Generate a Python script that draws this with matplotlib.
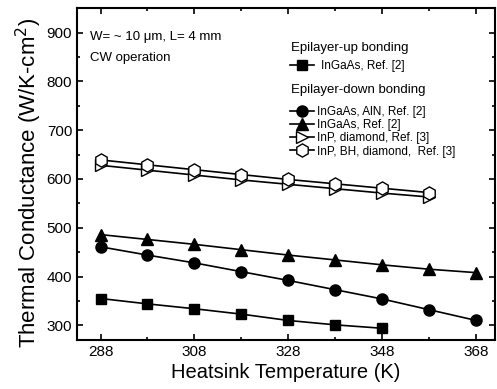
import numpy as np
import matplotlib.pyplot as plt
from matplotlib.ticker import MultipleLocator

plt.rcParams['font.family'] = ['Liberation Sans', 'DejaVu Sans']

# Heatsink temperatures (K)
temp_up = [288, 298, 308, 318, 328, 338, 348]
temp_down = [288, 298, 308, 318, 328, 338, 348, 358, 368]
temp_inp = [288, 298, 308, 318, 328, 338, 348, 358]

# Thermal conductance (W/K-cm^2)
ingaas_up = [355, 344, 334, 323, 310, 301, 294]
ingaas_aln = [461, 444, 428, 410, 392, 373, 354, 332, 310]
ingaas_down = [486, 476, 466, 455, 444, 434, 424, 415, 408]
inp_diamond = [628, 618, 608, 598, 589, 580, 571, 563]
inp_bh_diamond = [639, 629, 619, 609, 599, 590, 581, 572]

fig = plt.figure(figsize=(4.97, 3.89), dpi=100)
ax = fig.add_axes([0.155, 0.126, 0.841, 0.853])

l1, = ax.plot(temp_up, ingaas_up, 'k-s', ms=7, lw=1.2)
l2, = ax.plot(temp_down, ingaas_aln, 'k-o', ms=8, lw=1.2)
l3, = ax.plot(temp_down, ingaas_down, 'k-^', ms=8, lw=1.2)
l4, = ax.plot(temp_inp, inp_diamond, 'k->', ms=9, lw=1.2, mfc='white')
l5, = ax.plot(temp_inp, inp_bh_diamond, 'k-h', ms=9.5, lw=1.2, mfc='white')

ax.set_xlim(283, 372)
ax.set_ylim(270, 950)
ax.set_xticks(np.arange(288, 369, 20))
ax.set_xticks(np.arange(298, 369, 20), minor=True)
ax.set_yticks(np.arange(300, 901, 100))
ax.yaxis.set_minor_locator(MultipleLocator(50))
ax.tick_params(which='both', direction='in', top=True, right=True, labelsize=11)
ax.tick_params(which='major', length=4, width=1.2)
ax.tick_params(which='minor', length=2.5, width=1.2)
for s in ax.spines.values():
    s.set_linewidth(1.5)

ax.set_xlabel("Heatsink Temperature (K)", fontsize=14.5, labelpad=3)
ax.set_ylabel("Thermal Conductance (W/K-cm$^2$)", fontsize=16)
ax.yaxis.set_label_coords(-0.078, 0.473)

ax.text(0.03, 0.905, "W= ~ 10 \u03bcm, L= 4 mm", transform=ax.transAxes, fontsize=9.5)
ax.text(0.03, 0.84, "CW operation", transform=ax.transAxes, fontsize=9.5)

# legend headers
ax.text(0.512, 0.87, "Epilayer-up bonding", transform=ax.transAxes, fontsize=9.5)
ax.text(0.512, 0.745, "Epilayer-down bonding", transform=ax.transAxes, fontsize=9.5)

leg1 = ax.legend([l1], ["InGaAs, Ref. [2]"],
                 loc='center left', bbox_to_anchor=(0.49, 0.825), frameon=False,
                 fontsize=8.5, handlelength=2.0, handletextpad=0.6, borderpad=0.2)
ax.add_artist(leg1)
ax.legend([l2, l3, l4, l5],
          ["InGaAs, AlN, Ref. [2]", "InGaAs, Ref. [2]",
           "InP, diamond, Ref. [3]", "InP, BH, diamond,  Ref. [3]"],
          loc='upper left', bbox_to_anchor=(0.49, 0.73), frameon=False,
          fontsize=8.5, handlelength=2.0, handletextpad=0.3,
          labelspacing=0.1, borderpad=0.2)

fig.savefig("out.png", dpi=100)
